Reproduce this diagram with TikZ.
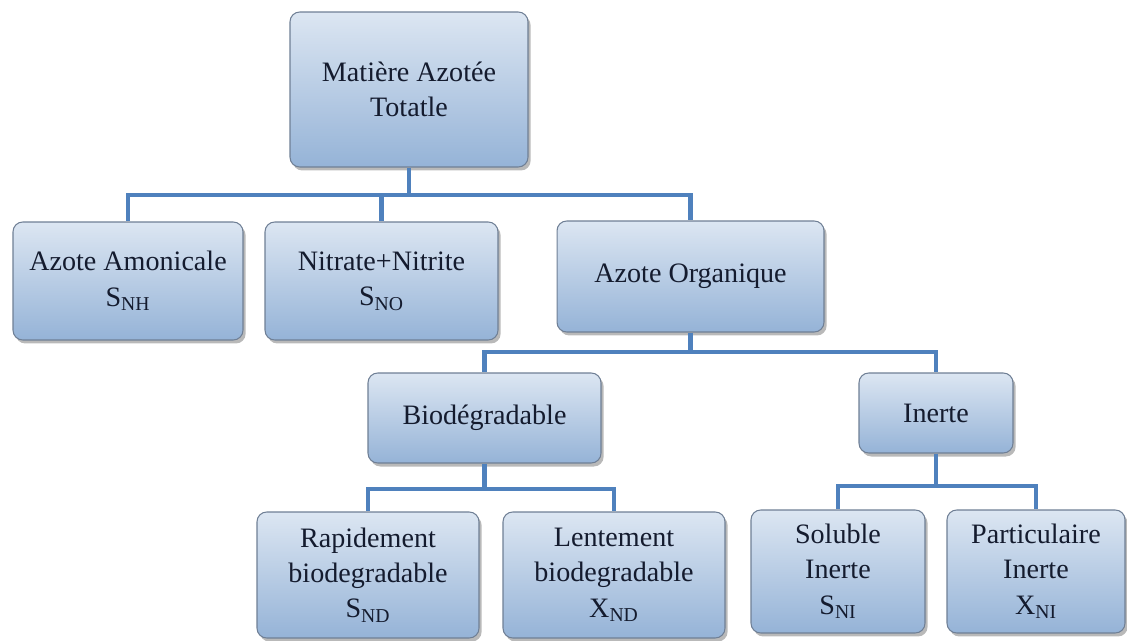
\documentclass[tikz,border=0pt]{standalone}
\usepackage{fontspec}
\setmainfont{Liberation Serif}
\usetikzlibrary{shadows}

\definecolor{boxtop}{HTML}{DCE6F2}
\definecolor{boxbot}{HTML}{95B3D7}
\definecolor{boxline}{HTML}{6F7F95}
\definecolor{linkblue}{HTML}{4F81BD}
\definecolor{inkblue}{HTML}{141B2E}

\tikzset{
  box/.style={draw=boxline, line width=0.6pt, rounded corners=5.5pt,
    top color=boxtop, bottom color=boxbot, align=center, inner sep=0pt,
    font=\fontsize{16}{20}\selectfont, text=inkblue,
    drop shadow={shadow xshift=1.5pt, shadow yshift=-2pt, opacity=0.55}},
  link/.style={linkblue, line width=2.6pt},
}

\begin{document}
\begin{tikzpicture}[x=0.02cm, y=-0.02cm]
    \useasboundingbox (0,0) rectangle (1127,641);

    % boxes
    \node[box, minimum width=4.76cm, minimum height=3.1cm] (tot) at (409,89.5) {Matière Azotée\\Totatle};

    \node[box, minimum width=4.6cm, minimum height=2.36cm] (amon) at (128,281) {Azote Amonicale\\S\textsubscript{NH}};
    \node[box, minimum width=4.66cm, minimum height=2.36cm] (nitr) at (381.5,281) {Nitrate+Nitrite\\S\textsubscript{NO}};
    \node[box, minimum width=5.34cm, minimum height=2.22cm] (org) at (690.5,276.5) {Azote Organique};

    \node[box, minimum width=4.66cm, minimum height=1.8cm] (bio) at (484.5,418) {Biodégradable};
    \node[box, minimum width=3.08cm, minimum height=1.6cm] (inert) at (936,413) {Inerte};

    \node[box, minimum width=4.44cm, minimum height=2.52cm] (rapid) at (368,575) {Rapidement\\biodegradable\\S\textsubscript{ND}};
    \node[box, minimum width=4.44cm, minimum height=2.52cm] (lent) at (614,575) {Lentement\\biodegradable\\X\textsubscript{ND}};
    \node[box, minimum width=3.48cm, minimum height=2.46cm] (solu) at (838,571.5) {Soluble\\Inerte\\S\textsubscript{NI}};
    \node[box, minimum width=3.56cm, minimum height=2.46cm] (part) at (1036,571.5) {Particulaire\\Inerte\\X\textsubscript{NI}};

    % junctions
    \coordinate (j1) at (409,195);
    \coordinate (j2) at (690.5,352);
    \coordinate (j3) at (484.5,489);
    \coordinate (j4) at (936,486);

    % connectors
    \draw[link] (tot.south) -- (j1) -| (amon.north);
    \draw[link] (j1) -| (nitr.north);
    \draw[link] (j1) -| (org.north);

    \draw[link] (org.south) -- (j2) -| (bio.north);
    \draw[link] (j2) -| (inert.north);

    \draw[link] (bio.south) -- (j3) -| (rapid.north);
    \draw[link] (j3) -| (lent.north);

    \draw[link] (inert.south) -- (j4) -| (solu.north);
    \draw[link] (j4) -| (part.north);
\end{tikzpicture}
\end{document}
